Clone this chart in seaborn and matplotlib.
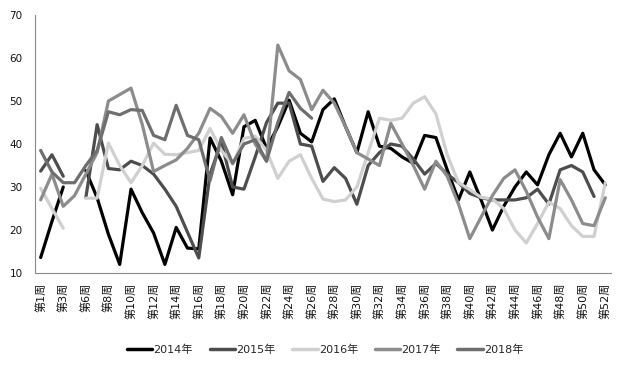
import numpy as np
import pandas as pd
import matplotlib
matplotlib.use('Agg')
import matplotlib.pyplot as plt
import seaborn as sns

nan = np.nan

# categories (one week is missing between week 3 and week 6)
weeks = ['第1周', '第2周', '第3周', '第5周'] + [f'第{w}周' for w in range(6, 53)]

# weekly values
y2014 = [13.6, 22, 30, nan, 33.8, 27.5, 19, 12, 29.5, 24, 19.3, 12, 20.6, 15.8, 15.6,
         41.4, 36, 28.2, 44, 45.5, 39, 44, 50.2, 42.5, 40.5, 48, 50.5, 44, 38, 47.5,
         39.5, 39, 37, 35.5, 42, 41.5, 34, 27, 33.5, 27, 20, 25.5, 30, 33.5, 30.5,
         37.5, 42.5, 37, 42.5, 34, 30.5]
y2015 = [33.7, 37.5, 32.5, nan, 27.5, 44.5, 34.3, 34, 36, 35, 33, 29.5, 25.5, 19.5, 13.5,
         33, 40.5, 30, 29.5, 37, 45, 49.5, 49.5, 40, 39.5, 31.3, 34.5, 32, 26, 35,
         38, 40, 39.5, 36.5, 33, 35.5, 33, 31, 28.5, 27.5, 27, 27, 27, 27.5, 29.5,
         26, 34, 35, 33.5, 27.8, nan]
y2016 = [29.7, 25, 20.4, nan, 27.4, 27.4, 40.2, 35, 31, 35, 40.2, 37.6, 37.5, 38, 38.5,
         43.6, 38.5, 35.3, 41.3, 41.8, 38.5, 32, 36, 37.5, 32, 27.2, 26.6, 27, 30, 38,
         46, 45.5, 46, 49.5, 51, 47, 37.5, 31, 29.4, 27.6, 27.2, 25, 20, 17, 21.5,
         26.5, 25, 21, 18.5, 18.5, 31]
y2017 = [27, 33, 25.5, 28, 33, 38, 50, 51.5, 53, 44.5, 33.6, 35, 36.3, 39, 42.5,
         48.3, 46.4, 42.5, 46.8, 40, 36, 63, 57, 55, 48, 52.5, 49.5, 44, 38, 36.5,
         35, 44.8, 40, 35, 29.5, 36, 32.5, 26, 18, 23, 28, 32, 34, 29, 23,
         18, 31.7, 27, 21.5, 21, 27.5]
y2018 = [38.5, 33.5, 31, 31, 35, 38.5, 47.5, 46.8, 48, 47.8, 42, 41, 49, 42, 41,
         31.5, 41.5, 35.5, 40, 41, 36, 45, 52, 48.3, 46]

years = ['2014年', '2015年', '2016年', '2017年', '2018年']
colors = ['#000000', '#4d4d4d', '#d0d0d0', '#8c8c8c', '#6e6e6e']

# long table, gaps split a series into separate segments
rows = []
for year, vals in zip(years, [y2014, y2015, y2016, y2017, y2018]):
    seg = 0
    for i, v in enumerate(vals):
        if np.isnan(v):
            seg += 1
            continue
        rows.append({'idx': i, 'value': v, 'year': year, 'seg': f'{year}-{seg}'})
df = pd.DataFrame(rows)

sns.set_style('white')
plt.rcParams['font.family'] = ['DejaVu Sans', 'Noto Sans CJK SC']

fig = plt.figure(figsize=(6.23, 3.67), dpi=100)
ax = fig.add_axes([0.0562, 0.2561, 0.9245, 0.703])

sns.lineplot(data=df, x='idx', y='value', hue='year', hue_order=years,
             palette=colors, units='seg', estimator=None, linewidth=2.3,
             solid_joinstyle='round', solid_capstyle='round', ax=ax)

ax.set_xlim(-0.5, 50.5)
ax.set_ylim(10, 70)
ax.set_yticks(range(10, 71, 10))
ax.set_xticks(range(0, 51, 2))
ax.set_xticklabels([weeks[i] for i in range(0, 51, 2)], rotation=90, fontsize=8)
ax.set_xticks(np.arange(-0.5, 51, 1), minor=True)
ax.set_xlabel('')
ax.set_ylabel('')

ax.tick_params(axis='x', which='major', length=0, pad=7, labelcolor='#111111')
ax.tick_params(axis='x', which='minor', length=4, direction='out', color='#898989', width=0.8)
ax.tick_params(axis='y', length=4, direction='out', color='#898989', width=0.8,
               labelsize=7.5, pad=5, labelcolor='#111111')

for side in ['top', 'right']:
    ax.spines[side].set_visible(False)
for side in ['left', 'bottom']:
    ax.spines[side].set_color('#898989')
    ax.spines[side].set_linewidth(0.8)

handles, labels = ax.get_legend_handles_labels()
ax.get_legend().remove()
for h in handles:
    h.set_linewidth(2.5)
fig.legend(handles, labels, loc='center', bbox_to_anchor=(0.522, 0.046), ncol=5,
           frameon=False, fontsize=8, handlelength=2.3, handletextpad=0.1,
           columnspacing=1.5)

fig.savefig('out.png', dpi=100)
